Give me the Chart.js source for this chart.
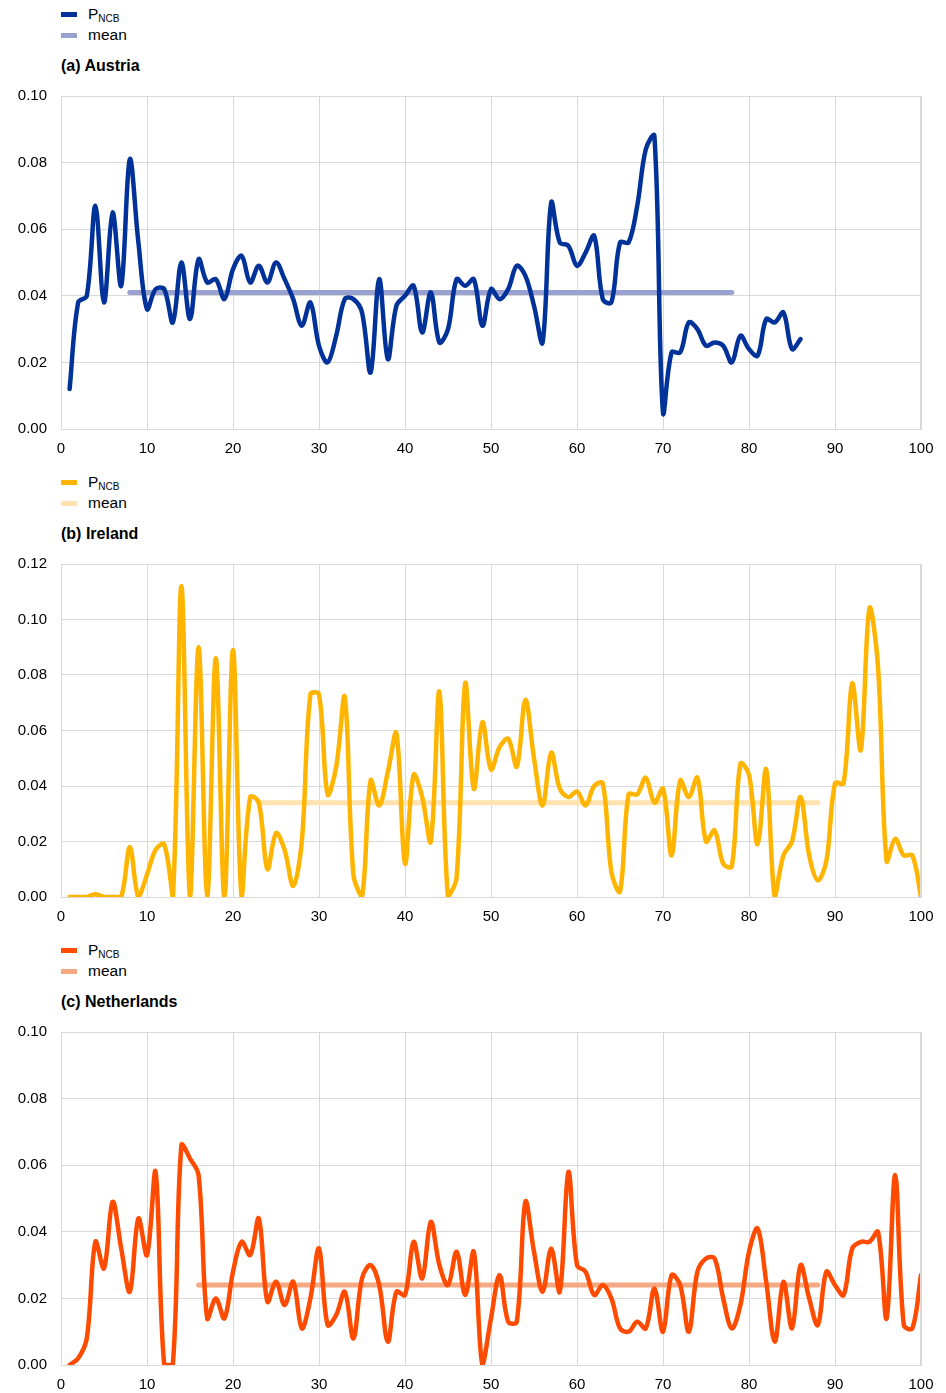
<!DOCTYPE html>
<html>
<head>
<meta charset="utf-8">
<script src="https://cdn.jsdelivr.net/npm/chart.js@4.4.1/dist/chart.umd.min.js"></script>
<style>
  html, body { margin: 0; padding: 0; background: #fff; }
  body { width: 946px; height: 1393px; position: relative; overflow: hidden;
         font-family: "Liberation Sans", Arial, sans-serif; color: #000; }
  .panel { position: absolute; left: 0; width: 946px; height: 468px; }
  .sw { position: absolute; left: 61px; width: 16px; height: 5px; }
  .lt { position: absolute; left: 88px; font-size: 15.5px; line-height: 20px; white-space: nowrap; }
  .lt sub { font-size: 10px; vertical-align: -3px; line-height: 0; }
  .title { position: absolute; left: 61px; font-size: 16px; font-weight: bold; line-height: 20px; white-space: nowrap; }
  .cv { position: absolute; left: 0; top: 73px; width: 946px; height: 386px; }
</style>
</head>
<body>
<div id="root"></div>
<script>
// ---- data ----
const austriaValues = [0.012,0.038,0.040,0.067,0.038,0.065,0.043,0.081,0.056,0.036,
  0.042,0.042,0.032,0.050,0.033,0.051,0.044,0.045,0.039,0.048,
  0.052,0.044,0.049,0.044,0.050,0.045,0.039,0.031,0.038,0.025,
  0.020,0.028,0.039,0.039,0.035,0.017,0.045,0.021,0.037,0.040,
  0.043,0.029,0.041,0.026,0.030,0.045,0.043,0.045,0.031,0.042,
  0.039,0.042,0.049,0.046,0.037,0.026,0.068,0.056,0.055,0.049,
  0.053,0.058,0.039,0.038,0.056,0.056,0.067,0.084,0.088,0.005,
  0.023,0.023,0.032,0.030,0.025,0.026,0.025,0.020,0.028,0.024,
  0.022,0.033,0.032,0.035,0.024,0.027];
const austriaMean = 0.041;
const austriaMeanRange = [8, 78];

const irelandValues = [0.000,0.000,0.000,0.001,0.000,0.000,0.000,0.018,0.000,0.008,
  0.017,0.019,0.000,0.112,0.000,0.090,0.000,0.086,0.000,0.089,
  0.000,0.036,0.034,0.010,0.023,0.017,0.004,0.020,0.073,0.073,
  0.037,0.047,0.072,0.008,0.000,0.042,0.033,0.045,0.059,0.012,
  0.044,0.036,0.020,0.074,0.000,0.007,0.077,0.039,0.063,0.046,
  0.054,0.057,0.047,0.071,0.050,0.033,0.052,0.039,0.036,0.038,
  0.033,0.040,0.041,0.009,0.002,0.037,0.037,0.043,0.034,0.039,
  0.015,0.042,0.036,0.043,0.020,0.024,0.012,0.011,0.048,0.044,
  0.019,0.046,0.000,0.015,0.020,0.036,0.015,0.006,0.013,0.041,
  0.041,0.077,0.053,0.104,0.083,0.013,0.021,0.015,0.015,0.000];
const irelandMean = 0.034;
const irelandMeanRange = [23, 88];

const netherlandsValues = [0.000,0.002,0.008,0.037,0.029,0.049,0.035,0.022,0.044,0.033,
  0.058,0.000,0.000,0.066,0.062,0.057,0.014,0.020,0.014,0.028,
  0.037,0.033,0.044,0.019,0.025,0.018,0.025,0.011,0.020,0.035,
  0.012,0.015,0.022,0.008,0.026,0.030,0.024,0.007,0.022,0.021,
  0.037,0.026,0.043,0.030,0.024,0.034,0.021,0.034,0.000,0.014,
  0.027,0.013,0.013,0.049,0.034,0.022,0.035,0.022,0.058,0.030,
  0.028,0.021,0.024,0.020,0.011,0.010,0.013,0.011,0.023,0.010,
  0.027,0.024,0.010,0.028,0.032,0.032,0.020,0.011,0.018,0.034,
  0.041,0.025,0.007,0.025,0.011,0.030,0.020,0.012,0.028,0.024,
  0.021,0.035,0.037,0.037,0.040,0.014,0.057,0.012,0.011,0.027];
const netherlandsMean = 0.024;
const netherlandsMeanRange = [16, 88];

const xTickLabels = [0,10,20,30,40,50,60,70,80,90,100];
const austriaYTicks = [0.00,0.02,0.04,0.06,0.08,0.10];
const irelandYTicks = [0.00,0.02,0.04,0.06,0.08,0.10,0.12];
const netherlandsYTicks = [0.00,0.02,0.04,0.06,0.08,0.10];

const seriesLabel = 'P_NCB';
const meanLabel = 'mean';

const panels = [
  { title: '(a) Austria', values: austriaValues, mean: austriaMean, range: austriaMeanRange,
    yTicks: austriaYTicks, yMax: 0.10, color: '#003299', meanColor: '#98a1d0' },
  { title: '(b) Ireland', values: irelandValues, mean: irelandMean, range: irelandMeanRange,
    yTicks: irelandYTicks, yMax: 0.12, color: '#ffb400', meanColor: '#ffe2ad' },
  { title: '(c) Netherlands', values: netherlandsValues, mean: netherlandsMean, range: netherlandsMeanRange,
    yTicks: netherlandsYTicks, yMax: 0.10, color: '#ff4b00', meanColor: '#f5a983' }
];

const root = document.getElementById('root');
const GRID = '#d9d9d9';

panels.forEach((p, i) => {
  const div = document.createElement('div');
  div.className = 'panel';
  div.style.top = (i * 468) + 'px';
  div.innerHTML =
    '<div class="sw" style="top:12px;background:' + p.color + '"></div>' +
    '<div class="lt" style="top:4px">P<sub>NCB</sub></div>' +
    '<div class="sw" style="top:33px;background:' + p.meanColor + '"></div>' +
    '<div class="lt" style="top:25px">' + meanLabel + '</div>' +
    '<div class="title" style="top:56px">' + p.title + '</div>' +
    '<canvas class="cv" width="946" height="386"></canvas>';
  root.appendChild(div);
  const ctx = div.querySelector('canvas');

  const lineData = p.values.map((v, k) => ({ x: k + 1, y: v }));
  const meanData = p.range.map(x => ({ x: x, y: p.mean }));

  new Chart(ctx, {
    type: 'line',
    data: {
      datasets: [
        { label: meanLabel, data: meanData, borderColor: p.meanColor, borderWidth: 5,
          borderCapStyle: 'round', pointRadius: 0, tension: 0, order: 2 },
        { label: seriesLabel, data: lineData, borderColor: p.color, borderWidth: 4.5,
          borderCapStyle: 'round', borderJoinStyle: 'round', pointRadius: 0,
          tension: 0.35, cubicInterpolationMode: 'default', order: 1 }
      ]
    },
    options: {
      responsive: false,
      animation: false,
      devicePixelRatio: 1,
      layout: { padding: { left: 0, right: 25, top: 0, bottom: 0 } },
      plugins: { legend: { display: false }, tooltip: { enabled: false }, title: { display: false } },
      scales: {
        x: {
          type: 'linear', min: 0, max: 100,
          afterFit: s => { s.height = 30; },
          afterBuildTicks: s => { s.ticks = xTickLabels.map(v => ({ value: v })); },
          grid: { color: GRID, lineWidth: 1, drawTicks: false },
          border: { color: GRID, width: 1 },
          ticks: { color: '#000', font: { family: 'Liberation Sans', size: 15 }, padding: 11,
                   maxRotation: 0, autoSkip: false, callback: v => String(v) }
        },
        y: {
          type: 'linear', min: 0, max: p.yMax,
          afterFit: s => { s.width = 61; },
          afterBuildTicks: s => { s.ticks = p.yTicks.map(v => ({ value: v })); },
          grid: { color: GRID, lineWidth: 1, drawTicks: false },
          border: { color: GRID, width: 1 },
          ticks: { color: '#000', font: { family: 'Liberation Sans', size: 15 }, padding: 14,
                   autoSkip: false, callback: v => v.toFixed(2) }
        }
      }
    },
    plugins: [{
      id: 'frame',
      afterDraw(chart) {
        const a = chart.chartArea, c = chart.ctx;
        c.save(); c.strokeStyle = GRID; c.lineWidth = 1;
        c.beginPath();
        c.moveTo(a.left, a.top + 0.5); c.lineTo(a.right, a.top + 0.5);
        c.moveTo(a.right - 0.5, a.top); c.lineTo(a.right - 0.5, a.bottom);
        c.stroke(); c.restore();
      }
    }]
  });
});
</script>
</body>
</html>
